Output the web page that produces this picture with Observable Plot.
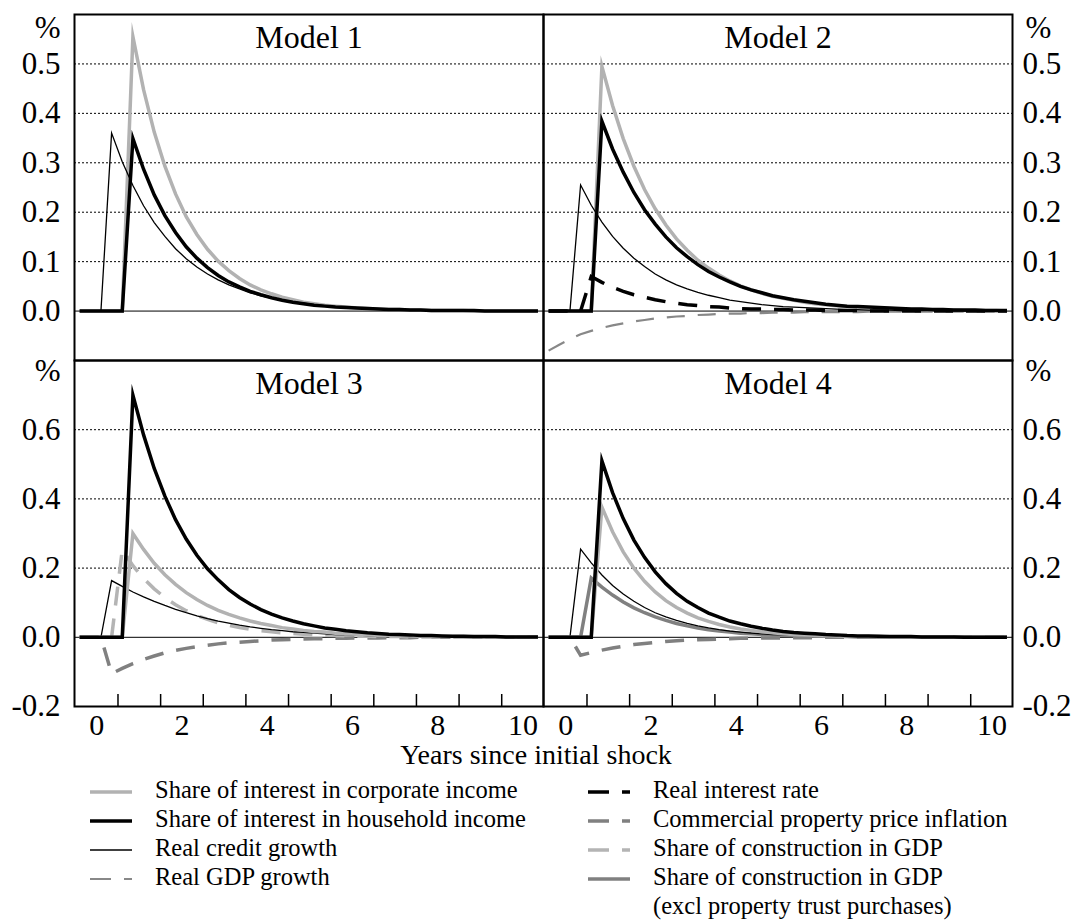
<!DOCTYPE html>
<html><head><meta charset="utf-8">
<script src="https://cdn.jsdelivr.net/npm/d3@7"></script>
<script src="https://cdn.jsdelivr.net/npm/@observablehq/plot@0.6"></script>
<style>
body{margin:0;background:#fff;}
#chart{position:relative;width:1072px;height:920px;font-family:'Liberation Serif','Times New Roman',serif;}
#chart .cell{position:absolute;}
#chart svg{overflow:visible;}
</style></head><body><div id="chart"></div>
<script>
// quarters, in years since initial shock
const years = [
 -0.4,-0.15,0.1,0.35, 0.6,0.85,1.1,1.35, 1.6,1.85,2.1,2.35, 2.6,2.85,3.1,3.35,
 3.6,3.85,4.1,4.35, 4.6,4.85,5.1,5.35, 5.6,5.85,6.1,6.35, 6.6,6.85,7.1,7.35,
 7.6,7.85,8.1,8.35, 8.6,8.85,9.1,9.35, 9.6,9.85,10.1,10.35];

// Model 1
const m1Corporate = [0,0,0,0, 0,0.555,0.448,0.362, 0.293,0.237,0.191,0.155, 0.125,0.101,0.082,0.066, 0.053,0.043,0.035,0.028, 0.023,0.018,0.015,0.012, 0.010,0.008,0.006,0.005, 0.004,0.003,0.003,0.002, 0.002,0.001,0.001,0.001, 0.001,0,0,0, 0,0,0,0];
const m1Household = [0,0,0,0, 0,0.349,0.287,0.235, 0.193,0.159,0.130,0.107, 0.088,0.072,0.059,0.049, 0.040,0.033,0.027,0.022, 0.018,0.015,0.012,0.010, 0.008,0.007,0.006,0.005, 0.004,0.003,0.003,0.002, 0.002,0.001,0.001,0.001, 0.001,0.001,0,0, 0,0,0,0];
const m1Credit = [0,0,0,0.360, 0.302,0.254,0.213,0.179, 0.151,0.126,0.106,0.089, 0.075,0.063,0.053,0.045, 0.037,0.031,0.026,0.022, 0.019,0.016,0.013,0.011, 0.009,0.008,0.007,0.006, 0.005,0.004,0.003,0.003, 0.002,0.002,0.002,0.001, 0.001,0.001,0.001,0, 0,0,0,0];
// Model 2
const m2Corporate = [0,0,0,0, 0,0.495,0.416,0.349, 0.293,0.246,0.207,0.174, 0.146,0.123,0.103,0.087, 0.073,0.061,0.051,0.043, 0.036,0.030,0.026,0.022, 0.018,0.015,0.013,0.011, 0.009,0.008,0.006,0.005, 0.005,0.004,0.003,0.003, 0.002,0.002,0.002,0.001, 0.001,0.001,0.001,0];
const m2Household = [0,0,0,0, 0,0.384,0.328,0.281, 0.240,0.205,0.176,0.150, 0.128,0.110,0.094,0.080, 0.069,0.059,0.050,0.043, 0.037,0.031,0.027,0.023, 0.020,0.017,0.014,0.012, 0.010,0.009,0.008,0.007, 0.006,0.005,0.004,0.004, 0.003,0.003,0.002,0.002, 0.002,0.001,0.001,0.001];
const m2Credit = [0,0,0,0.255, 0.214,0.180,0.151,0.127, 0.107,0.090,0.075,0.063, 0.053,0.045,0.038,0.032, 0.027,0.022,0.019,0.016, 0.013,0.011,0.009,0.008, 0.007,0.006,0.005,0.004, 0.003,0.003,0.002,0.002, 0.002,0.001,0.001,0.001, 0.001,0,0,0, 0,0,0,0];
const m2Interest = [0,0,0,0, 0.070,0.058,0.048,0.040, 0.033,0.028,0.023,0.019, 0.016,0.013,0.011,0.009, 0.008,0.006,0.005,0.004, 0.004,0.003,0.003,0.002, 0.002,0.002,0.001,0.001, 0.001,0.001,0,0, 0,0,0,0, 0,0,0,0, 0,0,0,0];
const m2Gdp = [-0.080,-0.068,-0.057,-0.047, -0.040,-0.034,-0.029,-0.025, -0.021,-0.018,-0.015,-0.013, -0.011,-0.010,-0.008,-0.007, -0.006,-0.005,-0.005,-0.004, -0.004,-0.003,-0.003,-0.003, -0.002,-0.002,-0.002,-0.002, -0.002,-0.002,-0.001,-0.001, -0.001,-0.001,-0.001,-0.001, -0.001,-0.001,-0.001,-0.001, -0.001,-0.001,-0.001,0];
// Model 3
const m3Household = [0,0,0,0, 0,0.700,0.585,0.488, 0.408,0.340,0.284,0.237, 0.198,0.166,0.138,0.115, 0.096,0.080,0.067,0.056, 0.047,0.039,0.033,0.027, 0.023,0.019,0.016,0.013, 0.011,0.009,0.008,0.007, 0.005,0.005,0.004,0.003, 0.003,0.002,0.002,0.002, 0.001,0.001,0.001,0.001];
const m3Corporate = [0,0,0,0, 0,0.300,0.254,0.214, 0.181,0.153,0.129,0.109, 0.092,0.078,0.066,0.056, 0.047,0.040,0.034,0.028, 0.024,0.020,0.017,0.015, 0.012,0.010,0.009,0.008, 0.006,0.005,0.005,0.004, 0.003,0.003,0.002,0.002, 0.002,0.001,0.001,0.001, 0.001,0.001,0,0];
const m3Construction = [0,0,0,0, 0.253,0.207,0.170,0.140, 0.115,0.094,0.077,0.063, 0.052,0.042,0.035,0.028, 0.023,0.019,0.016,0.013, 0.011,0.009,0.007,0.006, 0.005,0.004,0.003,0.003, 0.002,0.002,0.002,0.001, 0.001,0.001,0,0, 0,0,0,0, 0,0,0,0];
const m3Credit = [0,0,0,0.164, 0.147,0.131,0.117,0.104, 0.092,0.081,0.071,0.062, 0.054,0.047,0.041,0.035, 0.030,0.026,0.022,0.019, 0.016,0.014,0.012,0.010, 0.008,0.007,0.006,0.005, 0.004,0.003,0.003,0.002, 0.002,0.002,0.001,0.001, 0.001,0,0,0, 0,0,0,0];
const m3Commercial = [0,0,0,-0.105, -0.090,-0.076,-0.064,-0.054, -0.045,-0.038,-0.032,-0.027, -0.023,-0.019,-0.016,-0.014, -0.012,-0.010,-0.008,-0.007, -0.006,-0.005,-0.004,-0.004, -0.003,-0.003,-0.002,-0.002, -0.002,-0.001,-0.001,-0.001, 0,0,0,0, 0,0,0,0, 0,0,0,0];
// Model 4
const m4Household = [0,0,0,0, 0,0.510,0.418,0.343, 0.281,0.231,0.189,0.155, 0.127,0.104,0.086,0.070, 0.058,0.047,0.039,0.032, 0.026,0.021,0.017,0.014, 0.012,0.010,0.008,0.007, 0.005,0.004,0.004,0.003, 0.002,0.002,0.002,0.001, 0.001,0.001,0.001,0, 0,0,0,0];
const m4Corporate = [0,0,0,0, 0,0.376,0.305,0.247, 0.200,0.162,0.131,0.106, 0.086,0.070,0.056,0.046, 0.037,0.030,0.024,0.020, 0.016,0.013,0.010,0.008, 0.007,0.006,0.005,0.004, 0.003,0.002,0.002,0.002, 0.001,0.001,0.001,0, 0,0,0,0, 0,0,0,0];
const m4Credit = [0,0,0,0.255, 0.215,0.180,0.150,0.125, 0.104,0.086,0.071,0.059, 0.049,0.040,0.033,0.027, 0.022,0.018,0.015,0.012, 0.010,0.008,0.007,0.006, 0.005,0.004,0.003,0.003, 0.002,0.002,0.001,0.001, 0.001,0,0,0, 0,0,0,0, 0,0,0,0];
const m4ConstructionExcl = [0,0,0,0, 0.171,0.145,0.122,0.102, 0.085,0.071,0.059,0.049, 0.040,0.033,0.027,0.022, 0.018,0.015,0.012,0.010, 0.008,0.007,0.006,0.005, 0.004,0.003,0.003,0.002, 0.002,0.001,0.001,0, 0,0,0,0, 0,0,0,0, 0,0,0,0];
const m4Commercial = [0,0,0,-0.052, -0.044,-0.037,-0.031,-0.026, -0.021,-0.018,-0.015,-0.012, -0.010,-0.008,-0.007,-0.006, -0.005,-0.004,-0.003,-0.003, -0.002,-0.002,-0.002,-0.001, -0.001,-0.001,0,0, 0,0,0,0, 0,0,0,0, 0,0,0,0, 0,0,0,0];

// axes
const topTickValues = [0, 0.1, 0.2, 0.3, 0.4, 0.5];
const topGridValues = [-0.1, 0.1, 0.2, 0.3, 0.4, 0.5];
const bottomTickValues = [-0.2, 0, 0.2, 0.4, 0.6];
const bottomGridValues = [-0.2, 0.2, 0.4, 0.6];
const xLabelValues = [0, 2, 4, 6, 8, 10];
const yearBoundaries = [0.5, 1.5, 2.5, 3.5, 4.5, 5.5, 6.5, 7.5, 8.5, 9.5];
const modelTitles = ["Model 1", "Model 2", "Model 3", "Model 4"];
const xTitle = "Years since initial shock";

// legend
const legendLeftKeys = ["corporate", "household", "credit", "gdp"];
const legendLeftLabels = ["Share of interest in corporate income", "Share of interest in household income", "Real credit growth", "Real GDP growth"];
const legendRightKeys = ["interest", "commercial", "construction", "constructionExcl"];
const legendRightLabels = ["Real interest rate", "Commercial property price inflation", "Share of construction in GDP", "Share of construction in GDP|(excl property trust purchases)"];

const STYLE = {
  corporate: {stroke: "#b2b2b2", strokeWidth: 3.5},
  household: {stroke: "#000", strokeWidth: 3.5},
  credit: {stroke: "#000", strokeWidth: 1.3},
  gdp: {stroke: "#888", strokeWidth: 2.2, dash: "18,13"},
  interest: {stroke: "#000", strokeWidth: 3.5, dash: "19,13"},
  commercial: {stroke: "#808080", strokeWidth: 3.5, dash: "19,13"},
  construction: {stroke: "#b4b4b4", strokeWidth: 3.5, dash: "19,13"},
  constructionExcl: {stroke: "#808080", strokeWidth: 3.5}
};

const panels = [
  {title: modelTitles[0], row: "top", side: "left", series: [["corporate", m1Corporate], ["credit", m1Credit], ["household", m1Household]]},
  {title: modelTitles[1], row: "top", side: "right", series: [["gdp", m2Gdp], ["corporate", m2Corporate], ["credit", m2Credit], ["household", m2Household], ["interest", m2Interest]]},
  {title: modelTitles[2], row: "bottom", side: "left", series: [["commercial", m3Commercial], ["construction", m3Construction], ["credit", m3Credit], ["corporate", m3Corporate], ["household", m3Household]]},
  {title: modelTitles[3], row: "bottom", side: "right", series: [["commercial", m4Commercial], ["constructionExcl", m4ConstructionExcl], ["credit", m4Credit], ["corporate", m4Corporate], ["household", m4Household]]}
];

const FONT = "'Liberation Serif','Times New Roman',serif";
const chart = document.getElementById("chart");

for (const p of panels) {
  const isLeft = p.side === "left", isTop = p.row === "top";
  const W = isLeft ? 543 : 529;
  const H = isTop ? 360 : 386;
  const marks = [
    Plot.gridY({ticks: isTop ? topGridValues : bottomGridValues, stroke: "#000", strokeOpacity: 1, strokeWidth: 1, strokeDasharray: "2,2"}),
    Plot.ruleY([0], {stroke: "#000", strokeWidth: 1}),
    ...p.series.map(([key, vals]) => {
      const s = STYLE[key];
      return Plot.line(vals, {x: years, y: Plot.identity, stroke: s.stroke, strokeWidth: s.strokeWidth,
        strokeDasharray: s.dash || null, strokeLinecap: "butt", strokeLinejoin: "miter", strokeMiterlimit: 10});
    }),
    Plot.axisY({anchor: isLeft ? "left" : "right", ticks: isTop ? topTickValues : bottomTickValues, tickSize: 0,
      tickPadding: isLeft ? 14 : 10, tickFormat: d => d.toFixed(1), fontSize: 31, label: null}),
    Plot.text(["%"], {text: d => d, frameAnchor: isLeft ? "top-left" : "top-right", textAnchor: isLeft ? "end" : "start",
      lineAnchor: "top", dx: isLeft ? -14 : 13, dy: isTop ? 1 : -2, fontSize: 31}),
    Plot.text([p.title], {text: d => d, frameAnchor: "top", lineAnchor: "bottom", dy: 33, fontSize: 32})
  ];
  if (!isTop) {
    marks.push(
      Plot.ruleX(yearBoundaries, {x: d => d, stroke: "#000", strokeWidth: 1.5, insetTop: 334}),
      Plot.axisX({ticks: xLabelValues, tickSize: 0, tickPadding: 7, tickFormat: d => String(d), fontSize: 30, label: null})
    );
  }
  marks.push(Plot.frame({stroke: "#000", strokeWidth: 2}));
  const svg = Plot.plot({
    width: W, height: H,
    marginLeft: isLeft ? 74 : 0, marginRight: isLeft ? 0 : 60,
    marginTop: isTop ? 14 : 0, marginBottom: isTop ? 0 : 40,
    x: isTop ? {domain: [-0.52, 10.48], axis: null} : {domain: [-0.52, 10.48]},
    y: {domain: isTop ? [-0.1, 0.6] : [-0.2, 0.8]},
    style: {fontFamily: FONT, background: "transparent", overflow: "visible", color: "#000"},
    marks
  });
  const cell = document.createElement("div");
  cell.className = "cell";
  cell.style.left = (isLeft ? 0 : 543) + "px";
  cell.style.top = (isTop ? 0 : 360) + "px";
  cell.appendChild(svg);
  chart.appendChild(cell);
}

// x title and legend
const ov = d3.create("svg").attr("width", 1072).attr("height", 920)
  .style("position", "absolute").style("left", "0px").style("top", "0px")
  .style("pointer-events", "none").style("font-family", FONT);
ov.append("text").attr("x", 536).attr("y", 764).attr("text-anchor", "middle").attr("font-size", 28).text(xTitle);

const rowBaselines = [798, 827, 856, 885];
function legendColumn(keys, labels, x0) {
  keys.forEach((key, i) => {
    const s = STYLE[key];
    const y = rowBaselines[i];
    ov.append("line").attr("x1", x0).attr("x2", x0 + 42).attr("y1", y - 6).attr("y2", y - 6)
      .attr("stroke", s.stroke).attr("stroke-width", key === "credit" ? 1.5 : s.strokeWidth)
      .attr("stroke-dasharray", s.dash ? "21,13" : null);
    const parts = labels[i].split("|");
    parts.forEach((t, j) => {
      ov.append("text").attr("x", x0 + 65).attr("y", y + j * 29).attr("font-size", 24.5).text(t);
    });
  });
}
legendColumn(legendLeftKeys, legendLeftLabels, 90);
legendColumn(legendRightKeys, legendRightLabels, 588);
chart.appendChild(ov.node());
</script></body></html>
